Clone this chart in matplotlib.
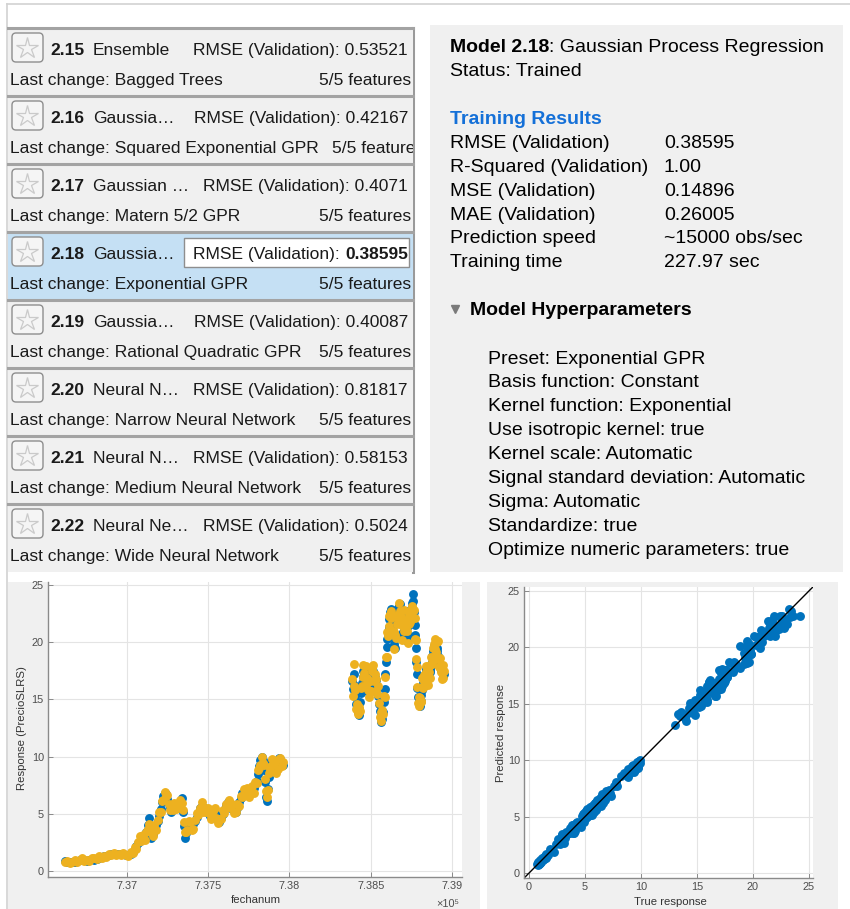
import matplotlib
matplotlib.use("Agg")
import matplotlib.pyplot as plt
from matplotlib.patches import Rectangle, FancyBboxPatch

plt.rcParams['font.family'] = ['Liberation Sans', 'DejaVu Sans']

# ---- model list (left panel) ----
model_ids = ['2.15', '2.16', '2.17', '2.18', '2.19', '2.20', '2.21', '2.22']
model_names = ['Ensemble', 'Gaussia\u2026', 'Gaussian \u2026', 'Gaussia\u2026',
               'Gaussia\u2026', 'Neural N\u2026', 'Neural N\u2026', 'Neural Ne\u2026']
rmse_vals = ['0.53521', '0.42167', '0.4071', '0.38595', '0.40087', '0.81817', '0.58153', '0.5024']
last_changes = ['Bagged Trees', 'Squared Exponential GPR', 'Matern 5/2 GPR', 'Exponential GPR',
                'Rational Quadratic GPR', 'Narrow Neural Network', 'Medium Neural Network',
                'Wide Neural Network']
features_txt = '5/5 features'
selected = 3

# ---- model summary (right panel) ----
model_title = ('Model 2.18', ': Gaussian Process Regression')
status_txt = 'Status: Trained'
result_labels = ['RMSE (Validation)', 'R-Squared (Validation)', 'MSE (Validation)',
                 'MAE (Validation)', 'Prediction speed', 'Training time']
result_values = ['0.38595', '1.00', '0.14896', '0.26005', '~15000 obs/sec', '227.97 sec']
hyperparams = ['Preset: Exponential GPR', 'Basis function: Constant', 'Kernel function: Exponential',
               'Use isotropic kernel: true', 'Kernel scale: Automatic',
               'Signal standard deviation: Automatic', 'Sigma: Automatic', 'Standardize: true',
               'Optimize numeric parameters: true']

# ---- response data, first block ----
fecha_a = [736620, 736635, 736650, 736665, 736680, 736695, 736710, 736725, 736740, 736755,
           736770, 736785, 736800, 736815, 736830, 736845, 736860, 736875, 736890, 736905,
           736920, 736935, 736950, 736965, 736980, 736995, 737010, 737025, 737040, 737050,
           737060, 737070, 737080, 737090, 737100, 737110, 737120, 737130, 737138, 737145,
           737152, 737160, 737170, 737180, 737190, 737200, 737210, 737218, 737226, 737234,
           737242, 737250, 737258, 737266, 737274, 737282, 737290, 737300, 737310, 737320,
           737330, 737338, 737344, 737350, 737356, 737362, 737370, 737380, 737390, 737400,
           737410, 737420, 737430, 737440, 737450, 737460, 737470, 737480, 737490, 737500,
           737510, 737520, 737530, 737540, 737550, 737560, 737570, 737580, 737590, 737600,
           737610, 737620, 737630, 737640, 737650, 737660, 737670, 737680, 737690, 737700,
           737710, 737720, 737730, 737740, 737750, 737760, 737770, 737780, 737790, 737800,
           737808, 737815, 737822, 737830, 737838, 737845, 737852, 737858, 737863, 737868,
           737874, 737880, 737888, 737896, 737904, 737912, 737920, 737928, 737936, 737944,
           737952, 737960]
true_a = [0.85, 0.78, 0.80, 0.75, 0.82, 0.88, 0.95, 1.02, 0.98, 0.92,
          1.00, 1.05, 0.98, 1.08, 1.15, 1.22, 1.30, 1.35, 1.40, 1.45,
          1.48, 1.50, 1.47, 1.52, 1.45, 1.40, 1.42, 1.50, 1.65, 1.90,
          2.20, 2.45, 2.60, 2.75, 2.90, 3.10, 3.40, 4.00, 4.60, 3.30,
          2.90, 3.20, 3.70, 4.00, 4.40, 4.80, 5.40, 6.00, 6.60, 6.85,
          6.75, 6.30, 5.90, 5.60, 5.20, 5.40, 5.70, 5.80, 5.60, 5.75,
          5.90, 6.40, 5.20, 3.90, 2.90, 3.30, 3.90, 4.20, 3.80, 3.70,
          4.10, 4.40, 4.70, 5.10, 5.50, 5.70, 5.60, 5.40, 5.30, 5.10,
          4.80, 4.90, 5.20, 5.10, 4.80, 4.50, 4.30, 4.60, 4.95, 5.30,
          5.80, 6.00, 5.90, 5.60, 5.40, 5.30, 5.20, 5.50, 6.00, 6.40,
          6.80, 6.95, 7.05, 6.90, 6.70, 6.80, 7.10, 7.30, 7.60, 7.90,
          8.50, 9.20, 9.70, 9.95, 9.70, 8.80, 7.80, 6.50, 6.10, 7.20,
          8.20, 9.00, 9.50, 9.60, 9.40, 9.20, 8.80, 9.40, 9.90, 9.80,
          9.50, 9.30]
pred_a = [0.80, 0.88, 0.68, 0.80, 0.97, 0.80, 0.95, 1.14, 0.88, 0.98,
          0.85, 1.10, 1.10, 1.02, 1.33, 1.12, 1.32, 1.21, 1.50, 1.41,
          1.60, 1.42, 1.50, 1.37, 1.55, 1.40, 1.30, 1.65, 1.60, 2.10,
          1.90, 2.55, 3.05, 2.60, 3.15, 2.70, 3.45, 3.70, 4.10, 3.65,
          3.45, 3.10, 4.00, 3.55, 4.45, 5.20, 5.15, 6.15, 6.25, 6.95,
          6.55, 6.65, 5.90, 5.30, 5.65, 5.30, 5.95, 5.40, 5.75, 5.70,
          6.20, 5.95, 5.35, 4.30, 3.40, 3.40, 3.55, 4.40, 4.25, 3.55,
          3.70, 4.45, 5.05, 4.90, 5.50, 6.00, 5.15, 5.55, 5.20, 5.50,
          5.00, 4.55, 5.25, 5.50, 4.65, 4.20, 4.55, 4.55, 5.30, 5.05,
          5.90, 5.60, 6.20, 5.55, 5.85, 5.05, 5.20, 5.85, 5.70, 6.55,
          6.45, 7.15, 6.95, 7.30, 6.45, 6.85, 7.40, 6.85, 7.75, 7.70,
          8.85, 9.00, 9.30, 10.00, 9.40, 9.25, 8.05, 7.00, 6.50, 7.05,
          8.60, 8.90, 9.15, 9.80, 9.35, 9.50, 8.55, 8.95, 9.75, 9.90,
          9.20, 9.55]

# ---- response data, second block ----
fecha_b = [738385, 738390, 738395, 738400, 738405, 738410, 738415, 738420, 738425, 738430,
           738435, 738440, 738445, 738450, 738455, 738460, 738465, 738470, 738475, 738480,
           738485, 738490, 738495, 738500, 738505, 738510, 738515, 738520, 738525, 738530,
           738535, 738540, 738545, 738550, 738555, 738560, 738565, 738570, 738575, 738580,
           738585, 738590, 738594, 738598, 738602, 738606, 738610, 738614, 738618, 738622,
           738626, 738630, 738634, 738638, 738642, 738646, 738650, 738654, 738658, 738662,
           738666, 738670, 738674, 738678, 738682, 738686, 738690, 738694, 738698, 738702,
           738706, 738710, 738714, 738718, 738722, 738726, 738730, 738734, 738738, 738742,
           738746, 738750, 738754, 738758, 738762, 738766, 738770, 738774, 738778, 738781,
           738784, 738787, 738790, 738794, 738798, 738802, 738806, 738810, 738814, 738818,
           738822, 738826, 738830, 738834, 738838, 738842, 738846, 738850, 738854, 738858,
           738862, 738866, 738870, 738874, 738878, 738882, 738886, 738890, 738894, 738898,
           738902, 738906, 738910, 738914, 738918, 738922, 738926, 738930, 738934, 738938,
           738942, 738946, 738950]
true_b = [16.6, 15.9, 17.2, 16.3, 15.3, 14.6, 14.3, 13.9, 13.6, 14.2,
          14.8, 15.6, 16.4, 17.0, 17.5, 17.2, 16.9, 17.3, 16.7, 16.1,
          15.8, 15.6, 15.9, 16.6, 17.4, 17.6, 17.5, 17.2, 17.0, 16.7,
          16.2, 15.8, 15.3, 14.6, 14.0, 13.5, 13.0, 13.3, 13.9, 14.8,
          15.9, 17.2, 18.3, 19.6, 20.3, 20.8, 21.3, 22.0, 22.6, 22.9,
          22.4, 22.0, 21.6, 21.0, 20.4, 19.8, 19.5, 20.6, 21.7, 22.3,
          22.7, 23.0, 23.2, 23.3, 22.8, 21.8, 20.7, 20.3, 20.9, 21.5,
          21.9, 22.2, 21.6, 20.8, 20.1, 20.6, 21.4, 22.1, 22.6, 22.8,
          22.4, 22.9, 23.4, 24.2, 23.6, 22.6, 21.5, 20.6, 19.5, 18.3,
          17.2, 16.0, 15.2, 14.8, 14.6, 14.4, 14.9, 15.4, 15.8, 16.1,
          16.4, 16.2, 16.7, 17.1, 17.4, 17.7, 17.5, 17.1, 17.0, 17.3,
          17.6, 17.4, 17.9, 18.3, 18.8, 19.2, 19.5, 19.7, 19.8, 19.6,
          19.3, 19.5, 19.2, 18.8, 18.5, 18.2, 18.0, 17.7, 17.6, 17.4,
          17.3, 17.1, 17.2]
pred_b = [16.8, 15.3, 18.1, 16.2, 15.8, 14.2, 14.6, 13.7, 14.3, 14.2,
          14.0, 16.0, 16.2, 18.0, 17.0, 17.3, 16.2, 17.9, 16.4, 16.9,
          15.8, 15.2, 16.6, 15.7, 17.7, 17.5, 18.0, 16.6, 17.2, 15.7,
          16.8, 15.5, 16.2, 14.7, 13.5, 13.9, 13.1, 14.1, 13.7, 15.3,
          15.2, 17.0, 18.7, 18.7, 20.9, 20.5, 22.3, 21.4, 22.5, 22.1,
          22.7, 21.0, 22.3, 21.0, 20.9, 19.4, 20.6, 20.4, 22.3, 21.6,
          22.4, 22.1, 23.4, 22.7, 21.7, 22.2, 21.5, 20.2, 21.4, 21.0,
          22.8, 21.9, 21.7, 21.4, 21.0, 19.9, 21.7, 21.6, 22.4, 21.8,
          22.8, 22.3, 23.2, 22.8, 22.8, 22.8, 22.1, 20.3, 20.2, 18.5,
          17.8, 16.1, 14.7, 15.2, 14.4, 15.1, 14.9, 14.8, 16.1, 16.9,
          16.0, 17.1, 16.6, 16.3, 17.9, 17.4, 17.7, 17.7, 16.3, 17.4,
          18.0, 16.9, 18.7, 18.1, 18.2, 19.5, 18.6, 19.8, 19.4, 20.3,
          19.1, 20.0, 18.5, 20.1, 18.5, 17.8, 18.6, 17.4, 18.0, 16.8,
          18.0, 16.9, 17.5]

fechanum = fecha_a + fecha_b
resp_true = true_a + true_b
resp_pred = pred_a + pred_b

# ------------------------------------------------------------------
W, H = 850, 909
BLUE = '#0072BD'
YELLOW = '#EDB120'
PANEL = '#f0f0f0'
TXT = '#1a1a1a'
FS_L = 12.5   # list font
FS_R = 14     # details font
MS = 6.4

fig = plt.figure(figsize=(W / 100, H / 100), dpi=100)
fig.patch.set_facecolor('white')
renderer = fig.canvas.get_renderer()


def px_axes(x0, y0, x1, y1):
    return fig.add_axes([x0 / W, 1 - y1 / H, (x1 - x0) / W, (y1 - y0) / H])


def text_width(ax, s, **kw):
    t = ax.text(0, 0, s, **kw)
    w = t.get_window_extent(renderer).width
    t.remove()
    return w


def runs(ax, x, y, parts, **kw):
    for s, wt in parts:
        t = ax.text(x, y, s, fontweight=wt, **kw)
        x += t.get_window_extent(renderer).width
    return x


ui = px_axes(0, 0, W, H)
ui.set_xlim(0, W)
ui.set_ylim(H, 0)
ui.axis('off')

# frame lines
ui.plot([7, W], [4, 4], color='#d2d2d2', lw=1.2)
ui.plot([7, 7], [4, H], color='#d2d2d2', lw=1.2)

# ---- left list ----
lst = px_axes(8, 28, 413, 572)
lst.set_xlim(8, 413)
lst.set_ylim(572, 28)
lst.axis('off')
lst.add_patch(Rectangle((8, 28), 405, 544, fc=PANEL, ec='none'))

for i in range(len(model_ids)):
    y0 = 28 + 68 * i
    b1, b2 = y0 + 27, y0 + 57
    if i == selected:
        lst.add_patch(Rectangle((8, y0), 405, 68, fc='#c5e0f4', ec='none'))
    lst.plot([8, 413], [y0, y0], color='#a3a3a3', lw=2.2, clip_on=False)
    lst.add_patch(FancyBboxPatch((12, y0 + 5), 31, 29, boxstyle='round,pad=0,rounding_size=4',
                                 fc='#f5f5f5', ec='#8e8e8e', lw=1))
    lst.plot(27.5, y0 + 20, marker='*', ms=16, mfc='none', mec='#cacaca', mew=0.9)
    kw = dict(fontsize=FS_L, color=TXT, va='baseline', clip_on=True)
    lst.text(50, b1, model_ids[i], fontweight='bold', **kw)
    lst.text(93, b1, model_names[i], **kw)
    if i == selected:
        lst.add_patch(Rectangle((184, y0 + 6), 225, 29, fc='white', ec='#8e8e8e', lw=1))
        parts = [('RMSE (Validation): ', 'normal'), (rmse_vals[i], 'bold')]
    else:
        parts = [('RMSE (Validation): ' + rmse_vals[i], 'normal')]
    total = sum(text_width(lst, s, fontsize=FS_L, fontweight=wt) for s, wt in parts)
    runs(lst, 408 - total, b1, parts, **kw)
    t = lst.text(10, b2, 'Last change: ' + last_changes[i], **kw)
    end = 10 + t.get_window_extent(renderer).width
    fx = max(319, end + 13)
    lst.text(fx, b2, features_txt, **kw)

ui.plot([413, 413], [28, 572], color='#9a9a9a', lw=2.2)

# ---- right details panel ----
ui.add_patch(Rectangle((430, 25), 413, 547, fc=PANEL, ec='none'))
kw = dict(fontsize=FS_R, color='black', va='baseline')
runs(ui, 450, 52, [(model_title[0], 'bold'), (model_title[1], 'normal')], **kw)
ui.text(450, 76, status_txt, **kw)
ui.text(450, 124, 'Training Results', fontsize=FS_R, fontweight='bold', color='#1470d8',
        va='baseline')
for k, (lab, val) in enumerate(zip(result_labels, result_values)):
    yb = 148.5 + 23.7 * k
    ui.text(450, yb, lab, **kw)
    ui.text(664, yb, val, **kw)
ui.plot(455, 309, marker='v', ms=6, color='#7a7a7a')
ui.text(470, 315, 'Model Hyperparameters', fontsize=FS_R, fontweight='bold', color='black',
        va='baseline')
for k, hp in enumerate(hyperparams):
    ui.text(488, 363.5 + 23.9 * k, hp, **kw)

# ---- plot panels ----
ui.add_patch(Rectangle((8, 582), 472, H - 582, fc=PANEL, ec='none'))
ui.add_patch(Rectangle((487, 582), 351, H - 582, fc=PANEL, ec='none'))


def style(ax):
    ax.set_facecolor('white')
    for s in ['top', 'right']:
        ax.spines[s].set_visible(False)
    for s in ['left', 'bottom']:
        ax.spines[s].set_color('#8a8a8a')
        ax.spines[s].set_linewidth(1.0)
    ax.grid(True, color='#e4e4e4', lw=0.8)
    ax.set_axisbelow(True)
    ax.tick_params(direction='in', length=3.5, width=0.7, color='#8a8a8a',
                   labelcolor='#4d4d4d', labelsize=7.8, pad=3)


ax1 = px_axes(48, 582, 462, 877)
style(ax1)
ax1.plot(fechanum, resp_true, 'o', color=BLUE, ms=MS, mec=BLUE, mew=0)
ax1.plot(fechanum, resp_pred, 'o', color=YELLOW, ms=MS, mec=YELLOW, mew=0)
ax1.set_xlim(736516, 739061)
ax1.set_ylim(-0.52, 25.26)
ax1.set_xticks([737000, 737500, 738000, 738500, 739000])
ax1.set_xticklabels(['7.37', '7.375', '7.38', '7.385', '7.39'])
ax1.set_yticks([0, 5, 10, 15, 20, 25])
ax1.set_xlabel('fechanum', fontsize=8.2, color='#333333')
ax1.set_ylabel('Response (PrecioSLRS)', fontsize=8.2, color='#333333')
ax1.xaxis.set_label_coords(0.502, -0.062)
ax1.yaxis.set_label_coords(-0.05, 0.505)
ui.text(459, 904, '\u00d710\u2075', ha='right', va='center', fontsize=7.8, color='#4d4d4d')

ax2 = px_axes(524, 587, 813, 878)
style(ax2)
ax2.plot(resp_true, resp_pred, 'o', color=BLUE, ms=MS, mec=BLUE, mew=0)
ax2.plot([-1, 26], [-1, 26], color='black', lw=1)
ax2.set_xlim(-0.45, 25.36)
ax2.set_ylim(-0.44, 25.35)
ax2.set_xticks([0, 5, 10, 15, 20, 25])
ax2.set_yticks([0, 5, 10, 15, 20, 25])
ax2.set_xlabel('True response', fontsize=8.2, color='#333333')
ax2.set_ylabel('Predicted response', fontsize=8.2, color='#333333')
ax2.xaxis.set_label_coords(0.505, -0.064)
ax2.yaxis.set_label_coords(-0.062, 0.5)

fig.savefig('out.png', dpi=100)
